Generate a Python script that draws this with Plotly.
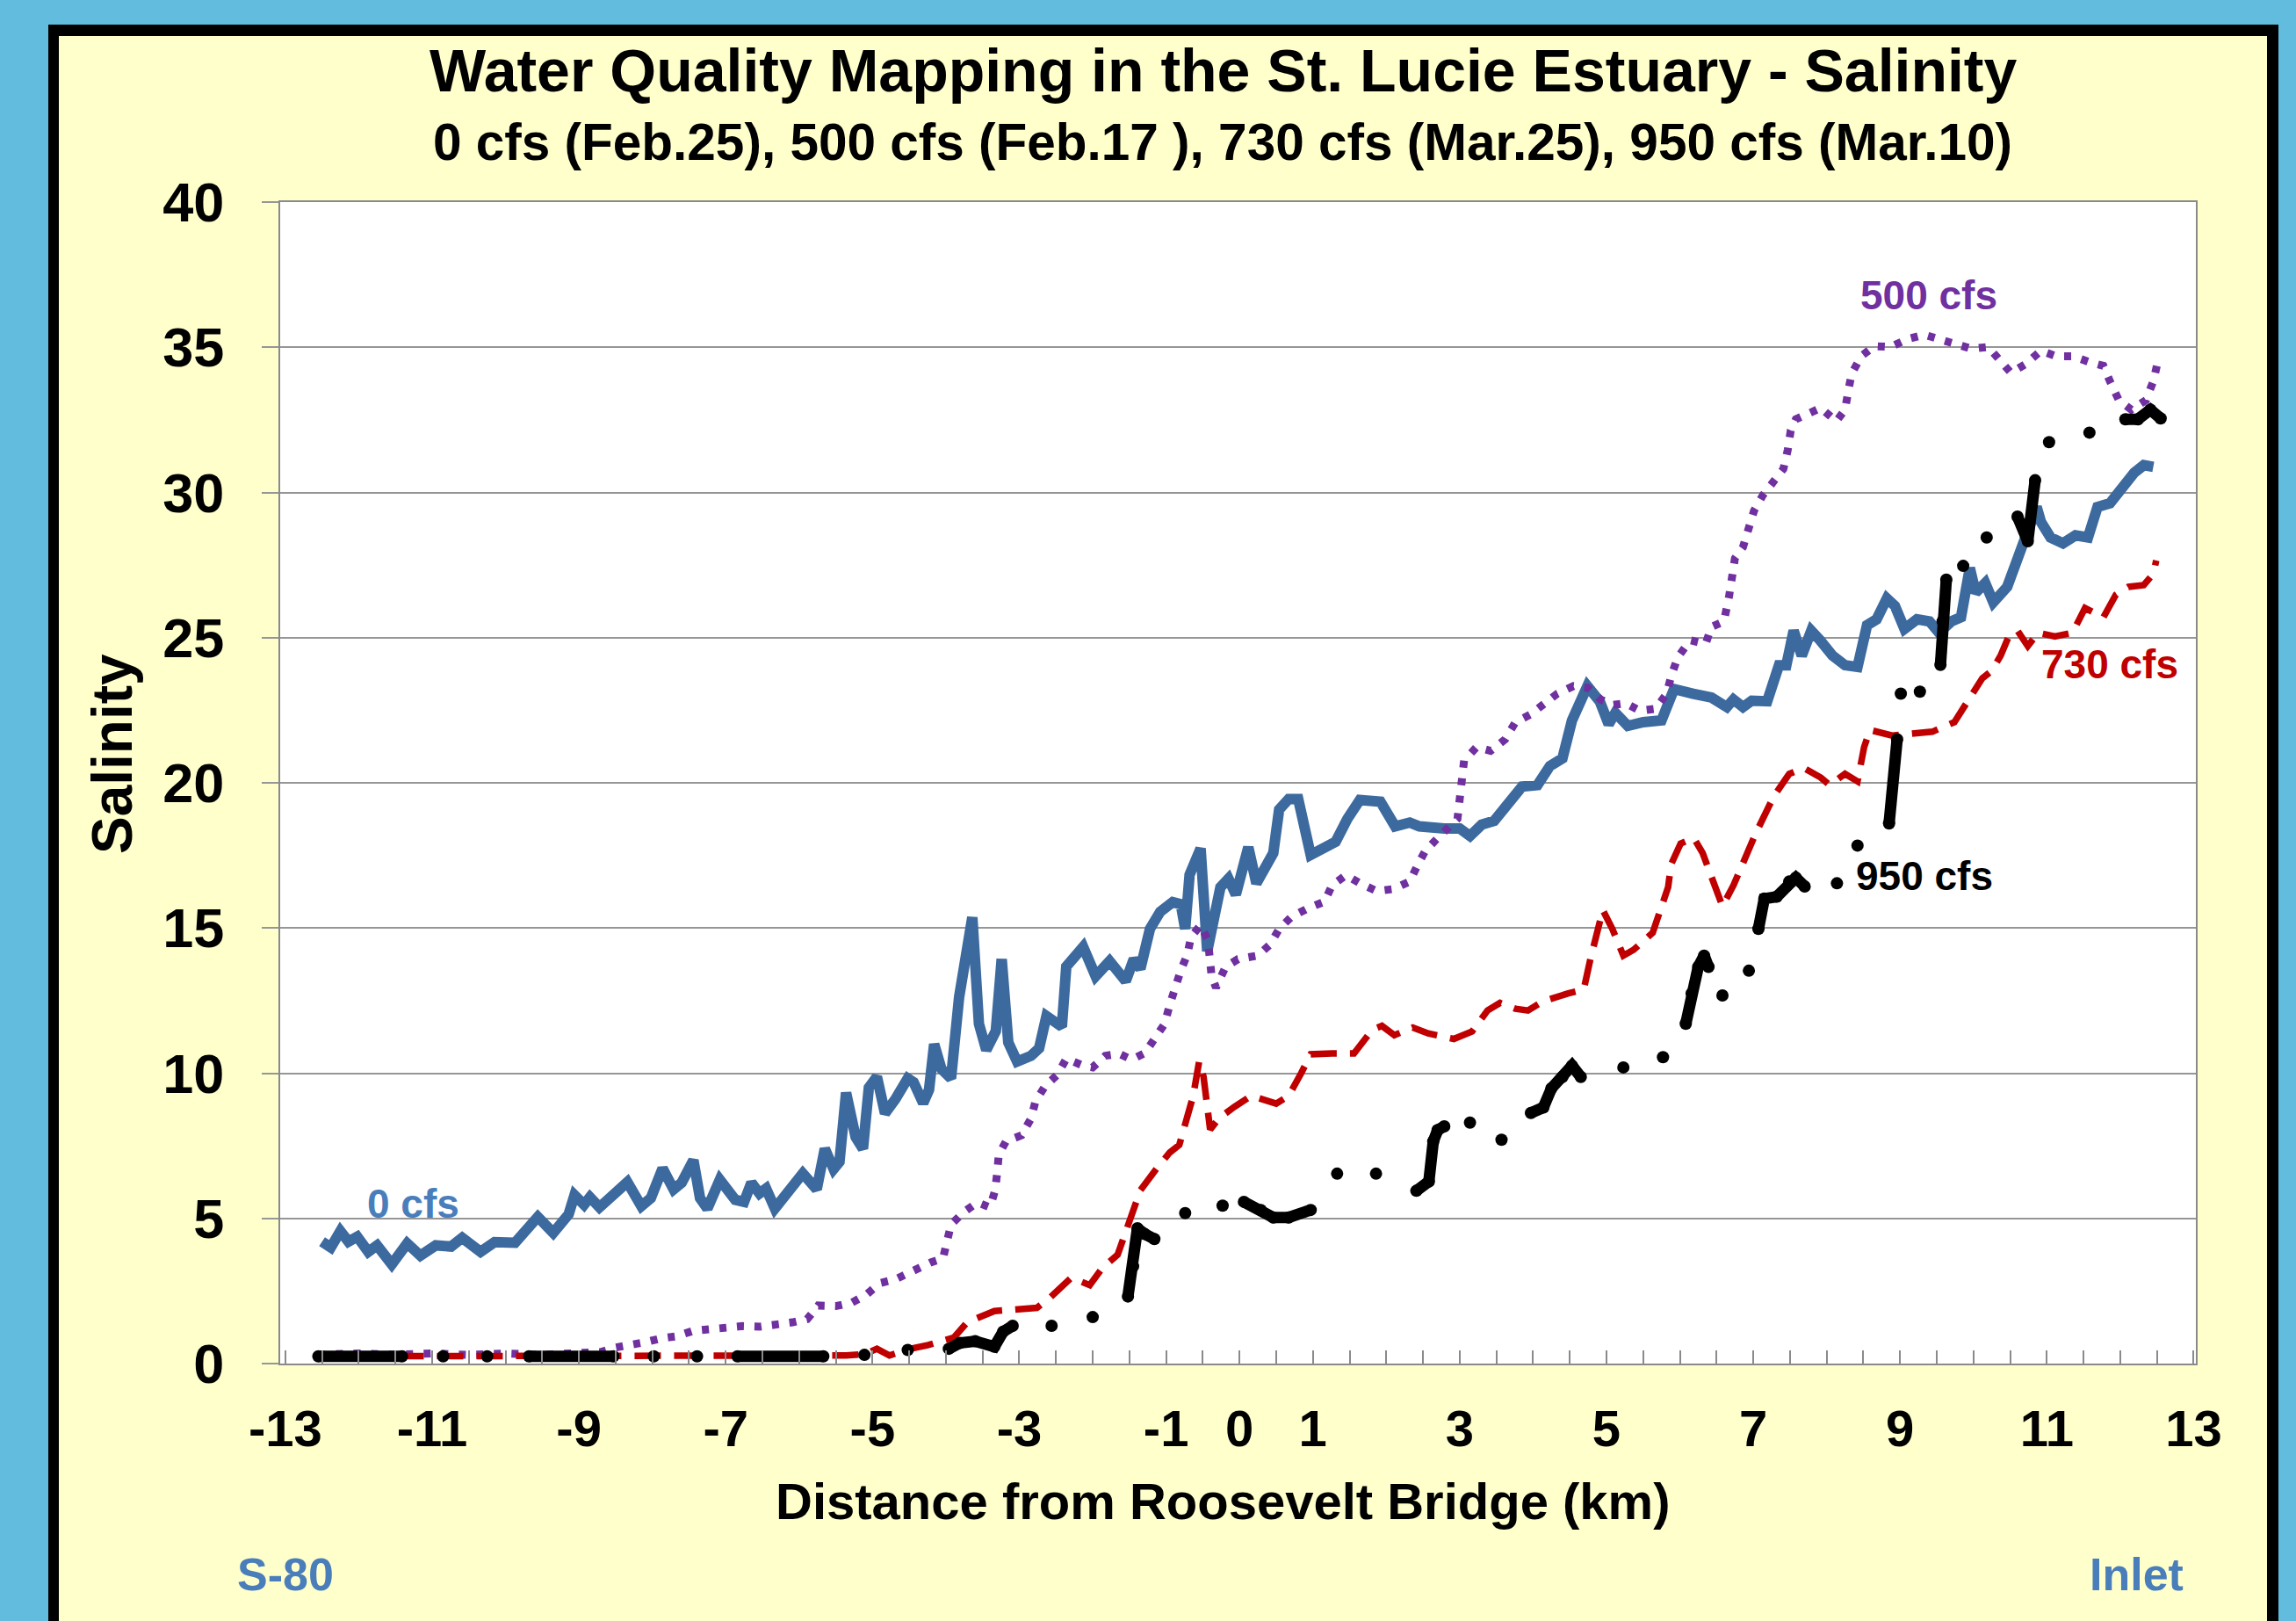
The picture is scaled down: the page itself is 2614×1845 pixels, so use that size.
import plotly.graph_objects as go

# ---------------- data ----------------
km_0cfs = [-12.50, -12.38, -12.25, -12.14, -12.02, -11.87, -11.75, -11.55, -11.34, -11.16,
           -10.95, -10.74, -10.59, -10.34, -10.15, -9.87, -9.56, -9.35, -9.14, -9.06,
           -8.93, -8.85, -8.72, -8.51, -8.34, -8.15, -8.02, -7.86, -7.71, -7.60,
           -7.44, -7.35, -7.25, -7.08, -6.87, -6.75, -6.65, -6.54, -6.45, -6.33,
           -6.16, -5.95, -5.76, -5.65, -5.53, -5.45, -5.36, -5.23, -5.13, -5.05,
           -4.94, -4.83, -4.69, -4.52, -4.44, -4.31, -4.23, -4.16, -4.06, -3.93,
           -3.82, -3.64, -3.55, -3.45, -3.32, -3.24, -3.15, -3.03, -2.84, -2.73,
           -2.63, -2.42, -2.36, -2.13, -1.96, -1.77, -1.55, -1.44, -1.35, -1.22,
           -1.08, -0.91, -0.80, -0.74, -0.68, -0.53, -0.44, -0.26, -0.15, -0.05,
           0.12, 0.23, 0.46, 0.54, 0.67, 0.80, 0.97, 1.18, 1.31, 1.47,
           1.64, 1.92, 2.12, 2.32, 2.45, 2.79, 3.00, 3.14, 3.30, 3.47,
           3.68, 3.85, 4.06, 4.23, 4.40, 4.53, 4.74, 4.91, 5.03, 5.12,
           5.29, 5.50, 5.75, 5.92, 6.18, 6.43, 6.64, 6.73, 6.86, 6.98,
           7.19, 7.35, 7.45, 7.55, 7.66, 7.79, 7.91, 8.08, 8.25, 8.42,
           8.55, 8.68, 8.82, 8.93, 9.06, 9.23, 9.40, 9.53, 9.70, 9.83,
           9.95, 10.03, 10.16, 10.27, 10.46, 10.58, 10.71, 10.86, 10.92, 11.05,
           11.22, 11.39, 11.56, 11.69, 11.86, 12.03, 12.19, 12.32, 12.45]
sal_0cfs = [4.20, 4.00, 4.56, 4.20, 4.37, 3.85, 4.07, 3.42, 4.14, 3.72,
            4.07, 4.03, 4.33, 3.85, 4.18, 4.16, 5.05, 4.50, 5.14, 5.80,
            5.47, 5.73, 5.38, 5.80, 6.25, 5.42, 5.70, 6.72, 6.00, 6.23,
            7.00, 5.70, 5.34, 6.33, 5.64, 5.57, 6.23, 5.86, 6.03, 5.34,
            5.84, 6.55, 6.00, 7.40, 6.70, 6.95, 9.33, 7.80, 7.40, 9.50,
            9.88, 8.62, 9.10, 9.82, 9.69, 8.97, 9.43, 11.00, 10.14, 9.82,
            12.62, 15.37, 11.70, 10.80, 11.45, 13.93, 11.06, 10.40, 10.60, 10.86,
            11.97, 11.60, 13.67, 14.35, 13.34, 13.86, 13.17, 13.93, 13.60, 14.97,
            15.56, 15.89, 15.82, 14.97, 16.83, 17.74, 14.20, 16.40, 16.70, 16.15,
            17.78, 16.54, 17.58, 19.08, 19.44, 19.44, 17.52, 17.84, 17.97, 18.76,
            19.41, 19.35, 18.50, 18.63, 18.50, 18.43, 18.43, 18.17, 18.56, 18.69,
            19.28, 19.87, 19.92, 20.58, 20.84, 22.15, 23.33, 22.80, 22.02, 22.41,
            21.96, 22.09, 22.15, 23.23, 23.07, 22.94, 22.61, 22.87, 22.61, 22.83,
            22.81, 24.05, 24.05, 25.24, 24.38, 25.24, 24.91, 24.38, 24.05, 23.99,
            25.43, 25.63, 26.35, 26.09, 25.30, 25.63, 25.56, 25.17, 25.56, 25.70,
            27.40, 26.55, 26.88, 26.22, 26.75, 27.53, 28.45, 29.50, 28.98, 28.45,
            28.25, 28.52, 28.45, 29.50, 29.63, 30.16, 30.68, 30.94, 30.88]

km_500cfs = [-12.55, -12.0, -11.5, -11.0, -10.5, -10.0, -9.5, -9.0, -8.7,
             -8.51, -8.34, -8.09, -7.88, -7.67, -7.44, -7.21, -6.98, -6.77, -6.54,
             -6.33, -6.09, -5.89, -5.74, -5.50, -5.28, -5.08, -4.90, -4.69, -4.58,
             -4.39, -4.20, -4.04, -3.99, -3.93, -3.76, -3.57, -3.40, -3.33, -3.30,
             -3.28, -3.18, -2.97, -2.84, -2.78, -2.65, -2.48, -2.36, -2.14, -2.00,
             -1.83, -1.64, -1.47, -1.29, -1.16, -1.02, -0.95, -0.88, -0.80, -0.71,
             -0.66, -0.53, -0.43, -0.38, -0.32, -0.19, -0.02,
             0.25, 0.42, 0.54, 0.71, 0.94, 1.16, 1.26, 1.45, 1.64, 1.87,
             2.09, 2.32, 2.43, 2.53, 2.70, 2.82, 2.97,
             3.06, 3.23, 3.42, 3.62, 3.76, 3.96, 4.13, 4.33, 4.55, 4.75,
             4.92, 5.08, 5.26, 5.46, 5.67, 5.82, 5.88, 5.97, 6.14, 6.35,
             6.43, 6.60, 6.67, 6.70, 6.75, 6.86, 6.92, 7.01, 7.13, 7.28,
             7.41, 7.47, 7.51, 7.58, 7.72, 7.92, 8.13, 8.25, 8.30, 8.34,
             8.47, 8.65, 8.87, 9.10, 9.33, 9.55, 9.75, 9.97, 10.20, 10.37,
             10.51, 10.71, 10.92, 11.13, 11.36, 11.58, 11.77, 11.87, 11.98, 12.15,
             12.35, 12.45, 12.51]
sal_500cfs = [0.30, 0.35, 0.30, 0.35, 0.30, 0.35, 0.30, 0.35, 0.40,
              0.55, 0.60, 0.74, 0.87, 0.94, 1.13, 1.20, 1.27, 1.29, 1.27,
              1.33, 1.42, 1.53, 2.00, 1.98, 2.10, 2.38, 2.77, 2.90, 3.03,
              3.30, 3.49, 3.62, 4.24, 4.79, 5.21, 5.55, 5.38, 5.96, 6.60,
              7.20, 7.66, 7.86, 8.44, 9.03, 9.55, 9.95, 10.50, 10.27, 10.20,
              10.60, 10.67, 10.47, 10.69, 11.19, 11.70, 12.36, 12.95, 13.54, 14.09,
              14.70, 15.10, 14.58, 13.34, 12.95, 13.66, 13.93,
              14.05, 14.44, 14.97, 15.39, 15.69, 15.91, 16.47, 16.82, 16.54, 16.27,
              16.34, 16.60, 17.19, 17.65, 18.10, 18.37, 18.76,
              20.77, 21.23, 21.10, 21.50, 22.09, 22.35, 22.68, 23.07, 23.33, 23.27,
              22.87, 22.68, 22.74, 22.48, 22.55, 23.07, 23.66, 24.32, 24.91, 24.78,
              25.37, 25.56, 26.42, 27.14, 27.73, 28.12, 28.71, 29.37, 29.90, 30.42,
              30.81, 31.47, 32.13, 32.52, 32.68, 32.91, 32.45, 32.85, 33.57, 34.09,
              34.69, 35.04, 35.01, 35.28, 35.43, 35.28, 35.08, 34.95, 35.01, 34.49,
              34.12, 34.42, 34.88, 34.69, 34.69, 34.49, 34.36, 33.77, 33.18, 32.85,
              33.18, 33.83, 34.49]

km_730cfs = [-12.55, -10.0, -7.5, -5.66, -5.36, -5.11, -4.94, -4.77, -4.48, -4.24,
             -3.89, -3.71, -3.34, -3.13, -2.76, -2.59, -2.29, -2.04, -1.87, -1.66,
             -1.41, -1.35, -1.12, -0.95, -0.82, -0.70, -0.63, -0.55, -0.49, -0.40,
             -0.28, -0.07, 0.16, 0.50, 0.67, 0.84, 0.97, 1.26, 1.56, 1.81,
             1.94, 2.11, 2.36, 2.57, 2.92, 3.17, 3.38, 3.55, 3.76, 3.93,
             4.14, 4.48, 4.69, 4.78, 4.86, 4.95, 5.08, 5.23, 5.37, 5.63,
             5.84, 5.88, 6.01, 6.19, 6.31, 6.43, 6.58, 6.73, 6.87, 7.03,
             7.18, 7.28, 7.49, 7.69, 7.92, 8.04, 8.25, 8.42, 8.51, 8.59,
             8.89, 9.19, 9.44, 9.74, 9.91, 10.12, 10.25, 10.37, 10.48, 10.60,
             10.74, 10.88, 11.11, 11.35, 11.52, 11.77, 11.94, 12.11, 12.32, 12.45,
             12.49]
sal_730cfs = [0.25, 0.25, 0.25, 0.28, 0.28, 0.32, 0.51, 0.28, 0.51, 0.64,
              0.90, 1.42, 1.81, 1.85, 1.92, 2.25, 2.96, 2.70, 3.29, 3.75,
              5.44, 5.97, 6.75, 7.27, 7.53, 8.58, 9.23, 10.40, 9.88, 8.06,
              8.45, 8.84, 9.22, 8.95, 9.22, 10.00, 10.65, 10.68, 10.68, 11.50,
              11.63, 11.31, 11.57, 11.37, 11.18, 11.44, 12.16, 12.42, 12.22, 12.16,
              12.48, 12.75, 12.88, 13.92, 14.71, 15.62, 14.97, 14.05, 14.25, 14.84,
              16.41, 17.19, 17.91, 18.10, 17.58, 16.73, 15.75, 16.47, 17.32, 18.24,
              19.02, 19.54, 20.31, 20.51, 20.18, 19.92, 20.31, 20.05, 21.23, 21.82,
              21.63, 21.69, 21.76, 22.09, 22.81, 23.60, 23.86, 24.38, 25.04, 25.24,
              24.71, 25.17, 25.04, 25.17, 26.02, 25.70, 26.48, 26.75, 26.81, 27.20,
              27.66]

# 950 cfs: only the visible pieces of the long-dash-dot-dot line (None = not visible)
km_950cfs = [-12.55, -11.41, None, -10.85, None, -10.25, None, -9.68, -8.53, None,
             -7.98, None, -7.39, None, -6.84, -5.67, None, -5.11, None, -4.52, None,
             -3.96, -3.81, -3.60, -3.34, -3.22, -3.09, None, -2.56, None, -2.00, None,
             -1.52, -1.45, -1.39, -1.29, -1.16, None, -0.74, None, -0.23, None,
             0.06, 0.29, 0.46, 0.67, 0.97, None, 1.33, None, 1.86, None,
             2.41, 2.58, 2.64, 2.70, 2.79, None, 3.14, None, 3.57, None,
             3.97, 4.14, 4.25, 4.40, 4.53, 4.65, None, 5.23, None, 5.77, None,
             6.08, 6.16, 6.25, 6.33, 6.39, None, 6.58, None, 6.94, None,
             7.07, 7.15, 7.32, 7.49, 7.58, 7.70, None, 8.14, None, 8.42, None,
             8.85, 8.96, None, 9.01, None, 9.27, None,
             9.55, 9.58, 9.63, None, 9.86, None, 10.18, None,
             10.60, 10.74, 10.84, None, 11.03, None, 11.58, None,
             12.07, 12.24, 12.41, 12.55]
sal_950cfs = [0.25, 0.25, None, 0.25, None, 0.25, None, 0.25, 0.25, None,
              0.25, None, 0.25, None, 0.25, 0.25, None, 0.30, None, 0.47, None,
              0.51, 0.71, 0.77, 0.58, 1.10, 1.30, None, 1.30, None, 1.60, None,
              2.31, 3.35, 4.66, 4.46, 4.29, None, 5.18, None, 5.44, None,
              5.57, 5.29, 5.03, 5.03, 5.29, None, 6.54, None, 6.54, None,
              5.95, 6.27, 7.65, 8.04, 8.17, None, 8.30, None, 7.71, None,
              8.63, 8.82, 9.48, 9.87, 10.26, 9.87, None, 10.20, None, 10.55, None,
              11.70, 12.75, 13.66, 14.05, 13.66, None, 12.68, None, 13.53, None,
              14.97, 16.01, 16.08, 16.60, 16.73, 16.43, None, 16.54, None, 17.84, None,
              18.60, 21.50, None, 23.07, None, 23.14, None,
              24.06, 25.56, 27.00, None, 27.47, None, 28.45, None,
              29.17, 28.32, 30.42, None, 31.73, None, 32.06, None,
              32.52, 32.52, 32.85, 32.55]

x_tick_vals = [-13, -11, -9, -7, -5, -3, -1, 0, 1, 3, 5, 7, 9, 11, 13]
y_tick_vals = [0, 5, 10, 15, 20, 25, 30, 35, 40]

title_text = "Water Quality Mapping in the St. Lucie Estuary - Salinity"
subtitle_text = "0 cfs (Feb.25), 500 cfs (Feb.17 ), 730 cfs (Mar.25), 950 cfs (Mar.10)"

# ---------------- layout geometry ----------------
W, H = 2614, 1845
L, R, T, B = 319, 2500, 230, 1552
FONT = "Liberation Sans, Arial, sans-serif"


def px(xp):
    return (xp - L) / (R - L)


def py(yp):
    return (B - yp) / (B - T)


fig = go.Figure()
fig.add_trace(go.Scatter(x=km_0cfs, y=sal_0cfs, mode="lines", name="0 cfs",
                         line=dict(color="#3D6A9E", width=12)))
fig.add_trace(go.Scatter(x=km_500cfs, y=sal_500cfs, mode="lines", name="500 cfs",
                         line=dict(color="#7030A0", width=9, dash="8px,12px")))
fig.add_trace(go.Scatter(x=km_730cfs, y=sal_730cfs, mode="lines", name="730 cfs",
                         line=dict(color="#C00000", width=7.5, dash="30px,15px")))
fig.add_trace(go.Scatter(x=km_950cfs, y=sal_950cfs, mode="lines+markers", name="950 cfs",
                         connectgaps=False,
                         line=dict(color="#000000", width=13),
                         marker=dict(color="#000000", size=14)))

shapes = [
    dict(type="rect", xref="paper", yref="paper", x0=px(55), x1=px(2594), y0=py(1900), y1=py(28),
         fillcolor="#000000", line=dict(width=0), layer="below"),
    dict(type="rect", xref="paper", yref="paper", x0=px(67), x1=px(2581), y0=py(1900), y1=py(41),
         fillcolor="#FFFFCC", line=dict(width=0), layer="below"),
    dict(type="rect", xref="paper", yref="paper", x0=0, x1=1, y0=0, y1=1,
         fillcolor="#FFFFFF", line=dict(width=0), layer="below"),
]

annotations = [
    dict(text=title_text, xref="paper", yref="paper", x=px(1392), y=py(80), showarrow=False,
         xanchor="center", yanchor="middle",
         font=dict(family=FONT, size=68, color="black", weight="bold")),
    dict(text=subtitle_text, xref="paper", yref="paper", x=px(1392), y=py(162), showarrow=False,
         xanchor="center", yanchor="middle",
         font=dict(family=FONT, size=58.5, color="black", weight="bold")),
    dict(text="Distance from Roosevelt Bridge (km)", xref="paper", yref="paper", x=px(1392), y=py(1708),
         showarrow=False, xanchor="center", yanchor="middle",
         font=dict(family=FONT, size=58, color="black", weight="bold")),
    dict(text="Salinity", xref="paper", yref="paper", x=px(128), y=py(858), showarrow=False,
         textangle=-90, xanchor="center", yanchor="middle",
         font=dict(family=FONT, size=64, color="black", weight="bold")),
    dict(text="S-80", xref="paper", yref="paper", x=px(325), y=py(1792), showarrow=False,
         xanchor="center", yanchor="middle",
         font=dict(family=FONT, size=52, color="#4A7EBB", weight="bold")),
    dict(text="Inlet", xref="paper", yref="paper", x=px(2432), y=py(1792), showarrow=False,
         xanchor="center", yanchor="middle",
         font=dict(family=FONT, size=52, color="#4A7EBB", weight="bold")),
    dict(text="0 cfs", x=-11.26, y=5.5, showarrow=False, xanchor="center", yanchor="middle",
         font=dict(family=FONT, size=46, color="#4A7EBB", weight="bold")),
    dict(text="500 cfs", x=9.39, y=36.8, showarrow=False, xanchor="center", yanchor="middle",
         font=dict(family=FONT, size=46, color="#7030A0", weight="bold")),
    dict(text="730 cfs", x=11.86, y=24.1, showarrow=False, xanchor="center", yanchor="middle",
         font=dict(family=FONT, size=46, color="#C00000", weight="bold")),
    dict(text="950 cfs", x=9.33, y=16.8, showarrow=False, xanchor="center", yanchor="middle",
         font=dict(family=FONT, size=46, color="#000000", weight="bold")),
]

fig.update_layout(
    width=W, height=H,
    margin=dict(l=L, r=W - R, t=T, b=H - B, pad=0),
    paper_bgcolor="#62BCDD",
    plot_bgcolor="#FFFFFF",
    showlegend=False,
    shapes=shapes,
    annotations=annotations,
    xaxis=dict(
        range=[-13.07, 13.03],
        tickmode="array", tickvals=x_tick_vals, ticktext=[str(v) for v in x_tick_vals],
        ticks="inside", ticklen=15, tickwidth=2, tickcolor="#8A8A8A",
        minor=dict(dtick=0.5, tick0=0, ticks="inside", ticklen=15, tickwidth=2,
                   tickcolor="#8A8A8A", showgrid=False),
        showgrid=False, zeroline=False,
        showline=True, linecolor="#8A8A8A", linewidth=2, mirror=True,
        tickfont=dict(family=FONT, size=58, color="black", weight="bold"),
        ticklabelstandoff=22,
    ),
    yaxis=dict(
        range=[0, 40],
        tickmode="array", tickvals=y_tick_vals,
        ticks="outside", ticklen=19, tickwidth=2, tickcolor="#969696",
        showgrid=True, gridcolor="#969696", gridwidth=2,
        zeroline=False,
        showline=True, linecolor="#8A8A8A", linewidth=2, mirror=True,
        tickfont=dict(family=FONT, size=63, color="black", weight="bold"),
        ticklabelstandoff=30,
    ),
)

fig.write_html("out.html",
               config={"displayModeBar": False},
               post_script="document.body.style.margin='0px';document.body.style.overflow='hidden';")
